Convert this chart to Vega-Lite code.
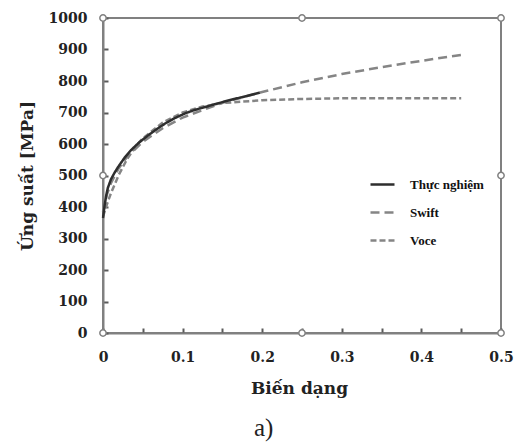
{
  "$schema": "https://vega.github.io/schema/vega-lite/v6.json",
  "width": 398,
  "height": 315,
  "autosize": {"type": "none"},
  "padding": {"left": 103, "top": 18, "right": 20, "bottom": 109},
  "background": "white",
  "title": {"text": "a)", "orient": "bottom", "anchor": "start", "dx": 236, "offset": 20, "font": "Liberation Serif", "fontSize": 25, "fontWeight": "normal", "color": "#222222"},
  "config": {
    "view": {"stroke": "#808080", "strokeWidth": 2},
    "axis": {"grid": false, "domainColor": "#808080", "domainWidth": 2,
      "labelFont": "DejaVu Serif", "labelFontWeight": "bold", "labelFontSize": 14, "labelColor": "#222222",
      "titleFont": "DejaVu Serif", "titleFontWeight": "bold", "titleFontSize": 17, "titleColor": "#222222"}
  },
  "encoding": {
    "x": {"field": "e", "type": "quantitative",
      "scale": {"domain": [0, 0.5], "nice": false, "zero": false},
      "axis": {"values": [0, 0.05, 0.1, 0.15, 0.2, 0.25, 0.3, 0.35, 0.4, 0.45, 0.5], "format": ".2~f",
        "labelExpr": "abs(datum.value * 10 - round(datum.value * 10)) < 0.01 ? datum.label : ''",
        "labelOverlap": false, "ticks": true, "tickSize": -5, "tickColor": "#5a5a5a", "tickWidth": 2,
        "labelPadding": 22, "labelFlush": false,
        "title": "Biến dạng", "titleX": 196, "titleY": 60, "titleBaseline": "alphabetic", "titleAlign": "center"}},
    "y": {"field": "s", "type": "quantitative",
      "scale": {"domain": [0, 1000], "nice": false},
      "axis": {"values": [0, 100, 200, 300, 400, 500, 600, 700, 800, 900, 1000], "format": "d",
        "labelOverlap": false, "ticks": true, "tickSize": -5, "tickColor": "#5a5a5a", "tickWidth": 2,
        "labelPadding": 21, "labelFlush": false,
        "title": "Ứng suất [MPa]", "titleX": -76, "titleY": 157.5, "titleAngle": -90, "titleBaseline": "middle", "titleAlign": "center"}}
  },
  "layer": [
    {
      "data": {"values": [
        {"e": 0, "s": 370, "series": "Voce"}, {"e": 0.005, "s": 409, "series": "Voce"}, {"e": 0.01, "s": 444, "series": "Voce"},
        {"e": 0.02, "s": 503, "series": "Voce"}, {"e": 0.03, "s": 551, "series": "Voce"}, {"e": 0.04, "s": 589, "series": "Voce"},
        {"e": 0.05, "s": 618, "series": "Voce"}, {"e": 0.075, "s": 668, "series": "Voce"}, {"e": 0.1, "s": 700, "series": "Voce"},
        {"e": 0.125, "s": 719, "series": "Voce"}, {"e": 0.15, "s": 730, "series": "Voce"}, {"e": 0.2, "s": 739, "series": "Voce"},
        {"e": 0.25, "s": 743, "series": "Voce"}, {"e": 0.3, "s": 745, "series": "Voce"}, {"e": 0.35, "s": 745, "series": "Voce"},
        {"e": 0.4, "s": 745, "series": "Voce"}, {"e": 0.45, "s": 745, "series": "Voce"},
        {"e": 0, "s": 385, "series": "Swift"}, {"e": 0.005, "s": 440, "series": "Swift"}, {"e": 0.01, "s": 476, "series": "Swift"},
        {"e": 0.02, "s": 524, "series": "Swift"}, {"e": 0.03, "s": 558, "series": "Swift"}, {"e": 0.05, "s": 607, "series": "Swift"},
        {"e": 0.075, "s": 650, "series": "Swift"}, {"e": 0.1, "s": 684, "series": "Swift"}, {"e": 0.15, "s": 731, "series": "Swift"},
        {"e": 0.2, "s": 765, "series": "Swift"}, {"e": 0.25, "s": 796, "series": "Swift"}, {"e": 0.3, "s": 822, "series": "Swift"},
        {"e": 0.35, "s": 844, "series": "Swift"}, {"e": 0.4, "s": 864, "series": "Swift"}, {"e": 0.45, "s": 883, "series": "Swift"},
        {"e": 0, "s": 365, "series": "Thực nghiệm"}, {"e": 0.002, "s": 405, "series": "Thực nghiệm"}, {"e": 0.004, "s": 436, "series": "Thực nghiệm"},
        {"e": 0.006, "s": 460, "series": "Thực nghiệm"}, {"e": 0.01, "s": 488, "series": "Thực nghiệm"}, {"e": 0.015, "s": 511, "series": "Thực nghiệm"},
        {"e": 0.019, "s": 527, "series": "Thực nghiệm"}, {"e": 0.027, "s": 556, "series": "Thực nghiệm"}, {"e": 0.035, "s": 580, "series": "Thực nghiệm"},
        {"e": 0.045, "s": 604, "series": "Thực nghiệm"}, {"e": 0.057, "s": 628, "series": "Thực nghiệm"}, {"e": 0.068, "s": 648, "series": "Thực nghiệm"},
        {"e": 0.078, "s": 665, "series": "Thực nghiệm"}, {"e": 0.09, "s": 682, "series": "Thực nghiệm"}, {"e": 0.103, "s": 697, "series": "Thực nghiệm"},
        {"e": 0.115, "s": 708, "series": "Thực nghiệm"}, {"e": 0.128, "s": 717, "series": "Thực nghiệm"}, {"e": 0.14, "s": 726, "series": "Thực nghiệm"},
        {"e": 0.15, "s": 733, "series": "Thực nghiệm"}, {"e": 0.165, "s": 743, "series": "Thực nghiệm"}, {"e": 0.18, "s": 752, "series": "Thực nghiệm"},
        {"e": 0.197, "s": 763, "series": "Thực nghiệm"}
      ]},
      "mark": {"type": "line", "strokeWidth": 2.5},
      "encoding": {
        "color": {"field": "series", "type": "nominal",
          "scale": {"domain": ["Thực nghiệm", "Swift", "Voce"], "range": ["#2e2e2e", "#858585", "#858585"]},
          "legend": {"title": null, "orient": "none", "legendX": 266, "legendY": 153,
            "symbolType": "stroke", "symbolSize": 576, "symbolStrokeWidth": 2.5,
            "labelFont": "Liberation Serif", "labelFontWeight": "bold", "labelFontSize": 13, "labelColor": "#111111",
            "labelOffset": 14, "rowPadding": 7}},
        "strokeDash": {"field": "series", "type": "nominal",
          "scale": {"domain": ["Thực nghiệm", "Swift", "Voce"], "range": [[1, 0], [9, 5], [6, 3]]},
          "legend": {"title": null, "orient": "none", "legendX": 266, "legendY": 153,
            "symbolType": "stroke", "symbolSize": 576, "symbolStrokeWidth": 2.5,
            "labelFont": "Liberation Serif", "labelFontWeight": "bold", "labelFontSize": 13, "labelColor": "#111111",
            "labelOffset": 14, "rowPadding": 7}}
      }
    },
    {
      "data": {"values": [
        {"e": 0, "s": 0}, {"e": 0.25, "s": 0}, {"e": 0.5, "s": 0},
        {"e": 0, "s": 500}, {"e": 0.5, "s": 500},
        {"e": 0, "s": 1000}, {"e": 0.25, "s": 1000}, {"e": 0.5, "s": 1000}
      ]},
      "mark": {"type": "point", "shape": "circle", "filled": true, "fill": "white", "stroke": "#808080", "strokeWidth": 1.5, "size": 40, "opacity": 1, "clip": false}
    }
  ]
}
